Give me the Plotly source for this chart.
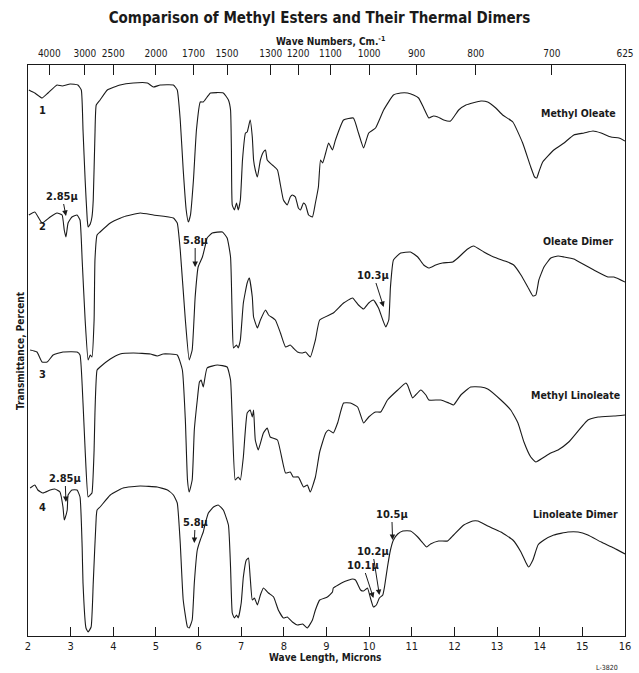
import plotly.graph_objects as go

# ---------------- data (wavelength in microns, stacked transmittance units) ----------------
oleate_x = [2.02, 2.16, 2.33, 2.47, 2.68, 2.80, 2.99, 3.17, 3.25, 3.29, 3.34, 3.39, 3.41, 3.46, 3.50, 3.53,
            3.57, 3.60, 3.69, 3.86, 4.16, 4.47, 4.80, 4.94, 5.10, 5.41, 5.50, 5.57, 5.64, 5.71, 5.76, 5.81,
            5.88, 5.95, 6.04, 6.11, 6.20, 6.28, 6.58, 6.70, 6.75, 6.77, 6.79, 6.84, 6.89, 6.93, 6.98, 7.03,
            7.10, 7.14, 7.21, 7.26, 7.29, 7.33, 7.38, 7.45, 7.52, 7.57, 7.61, 7.73, 7.85, 7.92, 7.99, 8.08,
            8.15, 8.20, 8.27, 8.34, 8.39, 8.46, 8.51, 8.58, 8.67, 8.74, 8.81, 8.86, 8.91, 8.98, 9.05, 9.14,
            9.21, 9.40, 9.63, 9.75, 9.87, 9.99, 10.15, 10.34, 10.57, 10.74, 10.90, 11.04, 11.16, 11.28,
            11.40, 11.51, 11.61, 11.75, 11.91, 12.10, 12.27, 12.62, 12.78, 12.97, 13.13, 13.37, 13.60,
            13.79, 13.88, 13.93, 13.98, 14.07, 14.33, 14.57, 14.80, 15.04, 15.25, 15.44, 15.67, 15.86, 16.0]
oleate_y = [546, 543, 538, 543, 551, 550, 552, 551, 546, 506, 456, 416, 409, 412, 419, 436,
            501, 531, 536, 546, 551, 553, 553, 549, 551, 551, 546, 516, 466, 426, 414, 421,
            456, 506, 534, 534, 539, 543, 543, 536, 526, 486, 431, 426, 433, 426, 436, 476,
            503, 504, 516, 499, 476, 466, 459, 476, 484, 486, 476, 471, 466, 451, 436, 431,
            439, 441, 439, 428, 426, 433, 431, 421, 419, 433, 449, 476, 473, 483, 493, 486,
            496, 516, 518, 503, 488, 503, 508, 526, 541, 543, 543, 541, 538, 528,
            518, 520, 519, 516, 515, 526, 531, 535, 534, 528, 521, 514, 493,
            469, 459, 458, 464, 474, 486, 493, 501, 503, 505, 503, 499, 498, 495]

oleate_dimer_x = [2.02, 2.16, 2.33, 2.52, 2.68, 2.80, 2.85, 2.89, 2.94, 3.03, 3.15, 3.22, 3.27, 3.34, 3.41,
                  3.46, 3.50, 3.55, 3.57, 3.62, 3.69, 3.93, 4.23, 4.63, 4.94, 5.41, 5.50, 5.57, 5.69, 5.78,
                  5.85, 5.92, 5.99, 6.09, 6.16, 6.20, 6.32, 6.56, 6.67, 6.75, 6.79, 6.82, 6.89, 6.93, 6.98,
                  7.05, 7.14, 7.19, 7.26, 7.29, 7.38, 7.45, 7.57, 7.64, 7.80, 7.92, 8.04, 8.15, 8.22, 8.32,
                  8.44, 8.51, 8.62, 8.74, 8.84, 9.16, 9.40, 9.61, 9.75, 9.87, 9.99, 10.10, 10.22, 10.32,
                  10.39, 10.46, 10.50, 10.57, 10.74, 10.97, 11.14, 11.28, 11.40, 11.56, 11.72, 11.96, 12.08,
                  12.31, 12.45, 12.69, 12.92, 13.25, 13.39, 13.56, 13.72, 13.84, 13.91, 13.98, 14.10, 14.26,
                  14.43, 14.57, 14.80, 14.97, 15.27, 15.60, 15.74, 16.0]
oleate_dimer_y = [421, 424, 413, 419, 423, 421, 406, 399, 413, 419, 421, 416, 376, 316, 276,
                  281, 279, 316, 376, 401, 404, 413, 419, 423, 421, 418, 413, 386, 316, 276,
                  286, 339, 369, 379, 391, 398, 403, 404, 398, 379, 316, 288, 291, 288, 296,
                  333, 353, 358, 339, 319, 308, 316, 326, 321, 316, 303, 289, 291, 288, 284,
                  283, 284, 279, 296, 316, 323, 333, 338, 331, 327, 333, 336, 328, 316,
                  309, 316, 349, 376, 383, 384, 379, 371, 368, 371, 373, 374, 378,
                  387, 390, 384, 379, 374, 371, 361, 349, 340, 341, 356, 369, 378,
                  380, 379, 377, 373, 366, 359, 359, 354]

linoleate_x = [2.05, 2.21, 2.33, 2.45, 2.59, 2.82, 3.15, 3.22, 3.29, 3.34, 3.41, 3.46, 3.50, 3.55, 3.57,
               3.62, 3.69, 3.93, 4.16, 4.47, 4.87, 5.03, 5.17, 5.50, 5.62, 5.69, 5.74, 5.78, 5.85, 5.90,
               5.97, 6.02, 6.06, 6.11, 6.20, 6.44, 6.67, 6.75, 6.79, 6.86, 6.93, 6.98, 7.05, 7.14, 7.21,
               7.26, 7.29, 7.33, 7.40, 7.52, 7.61, 7.68, 7.85, 8.04, 8.15, 8.22, 8.34, 8.46, 8.55, 8.62,
               8.74, 8.84, 8.98, 9.05, 9.16, 9.26, 9.40, 9.56, 9.73, 9.87, 9.99, 10.15, 10.27, 10.43,
               10.67, 10.86, 10.90, 11.02, 11.09, 11.21, 11.33, 11.40, 11.68, 11.87, 11.98, 12.15, 12.38,
               12.62, 12.78, 13.09, 13.32, 13.49, 13.63, 13.79, 13.91, 14.07, 14.26, 14.43, 14.68, 15.13,
               15.37, 15.74, 16.0]
linoleate_y = [286, 284, 274, 274, 281, 284, 284, 281, 233, 186, 139, 141, 143, 186, 223,
               266, 269, 277, 282, 283, 282, 280, 282, 281, 266, 216, 156, 144, 156, 206,
               236, 254, 256, 249, 268, 271, 269, 256, 216, 156, 159, 156, 179, 223, 226,
               219, 226, 196, 186, 203, 208, 199, 196, 163, 164, 159, 159, 149, 151, 144,
               159, 184, 203, 206, 203, 213, 233, 233, 229, 213, 219, 224, 224, 236,
               246, 253, 251, 238, 241, 246, 241, 236, 236, 233, 231, 241, 249,
               249, 247, 236, 226, 213, 194, 179, 174, 178, 183, 186, 194, 216,
               219, 220, 221]

linoleate_dimer_x = [2.05, 2.16, 2.23, 2.35, 2.52, 2.63, 2.75, 2.82, 2.85, 2.87, 2.92, 2.94, 3.03, 3.15,
                     3.22, 3.27, 3.29, 3.36, 3.41, 3.48, 3.53, 3.60, 3.62, 3.69, 3.93, 4.23, 4.63, 5.03,
                     5.27, 5.41, 5.50, 5.57, 5.64, 5.74, 5.78, 5.85, 5.90, 5.97, 6.04, 6.11, 6.16, 6.23,
                     6.35, 6.46, 6.58, 6.70, 6.75, 6.79, 6.84, 6.89, 6.93, 7.00, 7.05, 7.12, 7.17, 7.21,
                     7.26, 7.31, 7.38, 7.45, 7.52, 7.64, 7.76, 7.87, 7.99, 8.08, 8.20, 8.32, 8.44, 8.55,
                     8.67, 8.74, 8.84, 9.02, 9.14, 9.16, 9.40, 9.61, 9.68, 9.80, 9.87, 9.96, 10.03, 10.10,
                     10.17, 10.24, 10.32, 10.36, 10.43, 10.50, 10.57, 10.67, 10.79, 10.97, 11.14, 11.26,
                     11.35, 11.44, 11.63, 11.84, 11.98, 12.22, 12.43, 12.55, 12.78, 13.09, 13.37, 13.56,
                     13.67, 13.74, 13.84, 13.96, 14.10, 14.33, 14.66, 14.90, 15.13, 15.44, 15.74, 16.0]
linoleate_dimer_y = [148, 151, 146, 143, 146, 147, 144, 129, 116, 118, 126, 141, 146, 146,
                     139, 89, 53, 8, 4, 9, 53, 119, 126, 129, 141, 148, 150, 149,
                     146, 141, 133, 93, 36, 9, 8, 16, 53, 86, 96, 104, 113, 123,
                     129, 131, 126, 111, 69, 23, 18, 21, 18, 33, 59, 76, 78, 59,
                     36, 38, 31, 41, 48, 43, 39, 26, 18, 19, 14, 11, 12, 8,
                     16, 26, 36, 39, 44, 48, 54, 57, 56, 46, 45, 48, 38, 29,
                     31, 38, 41, 49, 69, 86, 96, 102, 105, 105, 99, 93,
                     89, 92, 95, 95, 101, 111, 115, 115, 110, 104, 96, 84,
                     74, 69, 76, 91, 96, 101, 104, 104, 101, 94, 88, 82]

wave_numbers = [4000, 3000, 2500, 2000, 1700, 1500, 1300, 1200, 1100, 1000, 900, 800, 700, 625]
micron_ticks = list(range(2, 17))

spectrum_names = ["Methyl Oleate", "Oleate Dimer", "Methyl Linoleate", "Linoleate Dimer"]
name_pos_x = [14.92, 14.92, 14.85, 14.85]
name_pos_y = [523, 395, 241, 122]
curve_numbers = ["1", "2", "3", "4"]
number_pos_x = [2.35, 2.35, 2.35, 2.33]
number_pos_y = [526, 410, 262, 129]

# band annotations: label, head (x, y), text (x, y)
band_labels = ["2.85μ", "5.8μ", "10.3μ", "2.85μ", "5.8μ", "10.5μ", "10.2μ", "10.1μ"]
band_head_x = [2.89, 5.92, 10.34, 2.89, 5.90, 10.55, 10.24, 10.10]
band_head_y = [420, 369, 329, 134, 93, 96, 41, 38]
band_text_x = [2.80, 5.92, 10.10, 2.87, 5.92, 10.53, 10.08, 9.85]
band_text_y = [440, 396, 361, 158, 114, 122, 85, 71]

FONT = "Liberation Sans Narrow, DejaVu Sans Condensed, Arial Narrow, sans-serif"
INK = "#1a1a1a"

fig = go.Figure()
series = [(oleate_x, oleate_y), (oleate_dimer_x, oleate_dimer_y),
          (linoleate_x, linoleate_y), (linoleate_dimer_x, linoleate_dimer_y)]
for (xs, ys), nm in zip(series, spectrum_names):
    fig.add_trace(go.Scatter(x=xs, y=ys, mode="lines", name=nm,
                             line=dict(color=INK, width=1.1, shape="spline", smoothing=0.4),
                             showlegend=False))

# invisible trace on top axis so it renders
fig.add_trace(go.Scatter(x=[2, 16], y=[0, 0], xaxis="x2", mode="markers",
                         marker=dict(opacity=0), showlegend=False, hoverinfo="skip"))

annotations = []
for nm, x, y in zip(spectrum_names, name_pos_x, name_pos_y):
    annotations.append(dict(x=x, y=y, xref="x", yref="y", text="<b>" + nm + "</b>",
                            showarrow=False, font=dict(family=FONT, size=10.5, color=INK)))
for nm, x, y in zip(curve_numbers, number_pos_x, number_pos_y):
    annotations.append(dict(x=x, y=y, xref="x", yref="y", text="<b>" + nm + "</b>",
                            showarrow=False, font=dict(family=FONT, size=11, color=INK)))
for lab, hx, hy, tx, ty in zip(band_labels, band_head_x, band_head_y, band_text_x, band_text_y):
    annotations.append(dict(x=hx, y=hy, xref="x", yref="y", ax=tx, ay=ty, axref="x", ayref="y",
                            text="<b>" + lab + "</b>", showarrow=True, arrowhead=2, arrowsize=1.1,
                            arrowwidth=1, arrowcolor=INK, standoff=0,
                            font=dict(family=FONT, size=11, color=INK)))

annotations += [
    dict(x=0.506, y=1.042, xref="paper", yref="paper", text="<b>Wave Numbers, Cm.<sup>-1</sup></b>",
         showarrow=False, yanchor="middle", font=dict(family=FONT, size=10, color=INK)),
    dict(x=-0.025, y=0.50, xref="paper", yref="paper", text="<b>Transmittance, Percent</b>",
         showarrow=False, textangle=-90, font=dict(family=FONT, size=10, color=INK)),
    dict(x=0.497, y=-0.037, xref="paper", yref="paper", text="<b>Wave Length, Microns</b>",
         showarrow=False, yanchor="middle", font=dict(family=FONT, size=10, color=INK)),
    dict(x=0.992, y=-0.056, xref="paper", yref="paper", text="L-3820",
         showarrow=False, yanchor="middle", font=dict(family=FONT, size=7, color=INK)),
]

fig.update_layout(
    width=639, height=673,
    margin=dict(l=28, r=14, t=65, b=37, autoexpand=False),
    paper_bgcolor="white", plot_bgcolor="white",
    title=dict(text="<b>Comparison of Methyl Esters and Their Thermal Dimers</b>",
               x=0.5, xanchor="center", y=0.973, yanchor="middle",
               font=dict(family=FONT, size=15, color=INK)),
    xaxis=dict(range=[2, 16], tickvals=micron_ticks, ticktext=[str(t) for t in micron_ticks],
               ticks="inside", ticklen=9, tickcolor=INK, showline=True, linecolor=INK, linewidth=1,
               showgrid=False, zeroline=False, tickangle=0, automargin=False,
               tickfont=dict(family=FONT, size=11, color=INK)),
    xaxis2=dict(range=[2, 16], overlaying="x", side="top",
                tickvals=[10000 / w for w in wave_numbers], ticktext=[str(w) for w in wave_numbers],
                ticks="inside", ticklen=10, tickcolor=INK, showline=True, linecolor=INK, linewidth=1,
                showgrid=False, zeroline=False, tickangle=0, automargin=False,
                ticklabelstandoff=3,
                tickfont=dict(family=FONT, size=10, color=INK)),
    yaxis=dict(range=[0, 571], showline=True, mirror=True, linecolor=INK, linewidth=1,
               showticklabels=False, ticks="", showgrid=False, zeroline=False, automargin=False),
    annotations=annotations,
)

fig.write_html("out.html", config={"displayModeBar": False},
               post_script="document.body.style.margin='0px';")
